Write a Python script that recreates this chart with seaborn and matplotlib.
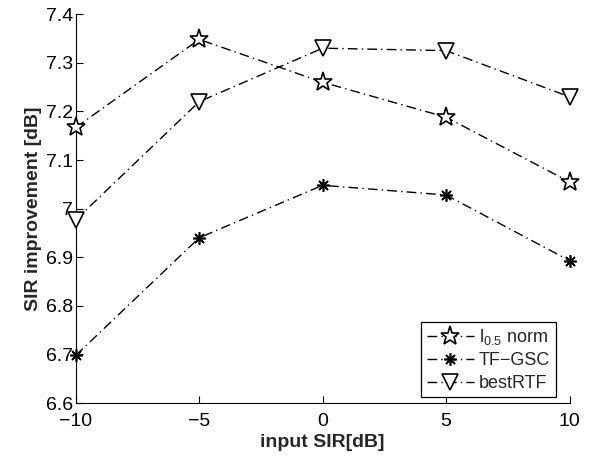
import matplotlib
matplotlib.use('Agg')
import matplotlib.pyplot as plt
import pandas as pd
import seaborn as sns

input_sir = [-10, -5, 0, 5, 10]
l05_norm = [7.167, 7.348, 7.260, 7.188, 7.055]
tf_gsc = [6.698, 6.940, 7.048, 7.028, 6.893]
best_rtf = [6.977, 7.220, 7.330, 7.325, 7.230]

series = [
    (r'l$_{0.5}$ norm', l05_norm, '*', 14),
    ('TF\u2212GSC', tf_gsc, (8, 2, 0), 9),
    ('bestRTF', best_rtf, 'v', 11),
]

sns.set_style('ticks')
plt.rcParams['font.family'] = ['Liberation Sans', 'DejaVu Sans']
plt.rcParams['mathtext.default'] = 'regular'

fig = plt.figure(figsize=(5.92, 4.57), dpi=100)
ax = fig.add_axes([0.128, 0.118, 0.834, 0.851])

for name, vals, mk, ms in series:
    df = pd.DataFrame({'x': input_sir, 'y': vals})
    sns.lineplot(data=df, x='x', y='y', ax=ax, color='black',
                 linestyle=(0, (7, 3, 1, 3)),
                 linewidth=1.0, marker=mk, markersize=ms, markerfacecolor='white',
                 markeredgecolor='black', markeredgewidth=1.2, label=name,
                 clip_on=False, zorder=3)

ax.set_xlim(-10, 10)
ax.set_ylim(6.6, 7.4)
ax.set_xticks(input_sir)
ax.set_xticklabels(['\u221210', '\u22125', '0', '5', '10'])
ax.set_yticks([6.6, 6.7, 6.8, 6.9, 7.0, 7.1, 7.2, 7.3, 7.4])
ax.set_yticklabels(['6.6', '6.7', '6.8', '6.9', '7', '7.1', '7.2', '7.3', '7.4'])
ax.tick_params(direction='in', length=5, width=0.8, labelsize=14, colors='black')
ax.tick_params(axis='x', pad=7)
ax.tick_params(axis='y', pad=2)
for s in ['top', 'right']:
    ax.spines[s].set_visible(False)
for s in ['left', 'bottom']:
    ax.spines[s].set_linewidth(0.8)
    ax.spines[s].set_color('black')

ax.set_xlabel('input SIR[dB]', fontsize=14, fontweight='bold', labelpad=3)
ax.set_ylabel('SIR improvement [dB]', fontsize=14, fontweight='bold', labelpad=3)

leg = ax.legend(loc='lower right', bbox_to_anchor=(0.972, 0.015), fontsize=13,
                frameon=True, fancybox=False, edgecolor='black', framealpha=1,
                handlelength=2.6, borderpad=0.3, labelspacing=0.3,
                handletextpad=0.3, borderaxespad=0.0)
leg.get_frame().set_linewidth(0.9)

fig.savefig('out.png', dpi=100)
